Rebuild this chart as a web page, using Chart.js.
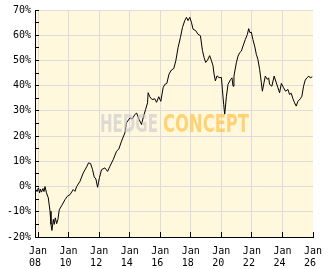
<!DOCTYPE html>
<html>
<head>
<meta charset="utf-8">
<script src="https://cdn.jsdelivr.net/npm/chart.js@4.4.1/dist/chart.umd.min.js"></script>
<style>
  html, body { margin: 0; padding: 0; background: #fff; }
</style>
</head>
<body>
<canvas id="perfChart" width="332" height="269"></canvas>
<script>
// performance since start, in percent
var dates = [
  "2007-11-13", "2007-12-07", "2008-01-12", "2008-02-06", "2008-02-28", "2008-03-22",
  "2008-04-27", "2008-05-21", "2008-06-15", "2008-07-20", "2008-09-03", "2008-10-13",
  "2008-11-06", "2008-11-28", "2009-01-01", "2009-01-23", "2009-02-17", "2009-03-20",
  "2009-04-20", "2009-05-21", "2009-07-17", "2009-10-06", "2009-11-28", "2010-02-04",
  "2010-04-20", "2010-06-01", "2010-07-11", "2010-09-27", "2010-12-16", "2011-03-06",
  "2011-04-22", "2011-06-10", "2011-07-26", "2011-09-05", "2011-10-15", "2011-11-24",
  "2011-12-14", "2012-01-08", "2012-02-28", "2012-05-16", "2012-07-20", "2012-09-14",
  "2012-12-03", "2013-02-21", "2013-04-16", "2013-06-19", "2013-09-08", "2013-10-17",
  "2014-01-05", "2014-02-28", "2014-05-03", "2014-06-13", "2014-08-07", "2014-10-10",
  "2014-11-17", "2015-01-14", "2015-03-02", "2015-03-15", "2015-04-25", "2015-06-19",
  "2015-08-22", "2015-10-04", "2015-11-26", "2016-01-14", "2016-03-09", "2016-04-18",
  "2016-06-06", "2016-07-28", "2016-09-25", "2016-11-20", "2017-01-08", "2017-03-02",
  "2017-04-27", "2017-06-15", "2017-08-09", "2017-09-19", "2017-10-26", "2017-12-07",
  "2018-01-16", "2018-02-24", "2018-04-27", "2018-06-21", "2018-08-18", "2018-10-06",
  "2018-11-13", "2018-12-22", "2019-02-04", "2019-03-26", "2019-05-08", "2019-06-15",
  "2019-07-09", "2019-08-11", "2019-09-19", "2019-11-06", "2020-01-03", "2020-01-25",
  "2020-02-26", "2020-03-20", "2020-05-01", "2020-06-08", "2020-08-11", "2020-09-12",
  "2020-10-06", "2020-10-28", "2020-12-25", "2021-02-04", "2021-03-13", "2021-04-22",
  "2021-06-01", "2021-07-26", "2021-09-14", "2021-10-15", "2021-11-15", "2021-12-18",
  "2022-01-25", "2022-03-06", "2022-04-16", "2022-05-23", "2022-07-04", "2022-08-14",
  "2022-09-08", "2022-10-15", "2022-11-17", "2023-01-05", "2023-02-06", "2023-02-28",
  "2023-04-22", "2023-06-15", "2023-08-07", "2023-09-14", "2023-10-24", "2023-12-05",
  "2024-01-27", "2024-03-15", "2024-05-10", "2024-06-19", "2024-07-28", "2024-09-08",
  "2024-10-17", "2024-11-26", "2025-01-05", "2025-03-02", "2025-04-09", "2025-05-19",
  "2025-06-28", "2025-08-07", "2025-09-23", "2025-10-26", "2025-12-14"
];
var perf = [
  -1.2, -2.0, -0.5, -2.5, -1.0, -2.2,
  -0.8, -2.0, 0.0, -2.5, -4.5, -9.8,
  -15.0, -17.4, -13.0, -15.0, -12.4, -14.7,
  -13.0, -9.2, -7.6, -5.2, -3.9, -3.2,
  -1.2, -1.9, 0.0, 2.0, 5.4, 7.8,
  9.4, 9.1, 6.7, 3.8, 3.0, -0.3,
  1.5, 3.5, 6.7, 7.4, 6.0, 8.0,
  10.7, 14.0, 14.9, 18.0, 21.3, 25.3,
  27.2, 26.8, 28.5, 29.2, 26.8, 24.6,
  27.2, 30.5, 33.2, 37.2, 35.6, 34.5,
  34.8, 33.4, 35.6, 33.8, 39.2, 40.5,
  40.9, 44.6, 46.2, 46.8, 49.9, 55.2,
  59.1, 63.1, 65.8, 67.1, 65.8, 67.1,
  65.1, 62.4, 61.8, 60.4, 59.8, 53.9,
  51.2, 49.2, 50.1, 51.9, 49.9, 47.9,
  44.6, 41.9, 43.9, 43.2, 43.2, 38.6,
  32.6, 28.7, 35.8, 40.5, 42.5, 43.1,
  39.8, 43.8, 49.1, 51.7, 53.1, 53.7,
  55.7, 58.3, 60.3, 62.6, 61.0, 61.2,
  58.3, 55.7, 52.4, 50.4, 46.4, 41.1,
  37.8, 41.1, 43.8, 42.5, 43.1, 40.5,
  39.8, 43.8, 41.1, 39.2, 37.2, 40.9,
  39.2, 37.8, 38.5, 36.5, 37.0, 34.8,
  33.2, 31.9, 33.8, 34.8, 35.8, 39.8,
  42.2, 43.1, 43.8, 43.1, 43.5
];
var xTickYears = [2008, 2010, 2012, 2014, 2016, 2018, 2020, 2022, 2024, 2026];
var yMin = -20, yMax = 70;

function toYear(d) {
  var p = d.split("-");
  return +p[0] + (p[1] - 1) / 12 + (p[2] - 1) / 365;
}

const monoFont = { family: "'DejaVu Sans Mono', 'Liberation Mono', monospace", size: 10 };

// cream plot background
const plotBg = {
  id: "plotBg",
  beforeDraw(chart) {
    const { ctx, chartArea: a } = chart;
    ctx.save();
    ctx.fillStyle = "#fff8dc";
    ctx.fillRect(a.left, a.top, a.right - a.left, a.bottom - a.top);
    ctx.restore();
  },
};

// watermark, drawn over the line
function fitText(ctx, text, x, y, width, color) {
  const w = ctx.measureText(text).width;
  ctx.save();
  ctx.translate(x, y);
  ctx.scale(width / w, 1);
  ctx.fillStyle = color;
  ctx.fillText(text, 0, 0);
  ctx.restore();
}
const watermark = {
  id: "watermark",
  afterDatasetsDraw(chart) {
    const { ctx, chartArea: a } = chart;
    const cx = (a.left + a.right) / 2;
    const cy = (a.top + a.bottom) / 2;
    ctx.save();
    ctx.font = "bold 24px 'Liberation Sans Narrow', 'DejaVu Sans Condensed', sans-serif";
    ctx.textBaseline = "alphabetic";
    fitText(ctx, "HEDGE", cx - 74, cy + 8.5, 58, "rgba(200,200,208,0.62)");
    fitText(ctx, "CONCEPT", cx - 11, cy + 8.5, 86, "rgba(255,188,55,0.62)");
    ctx.restore();
  },
};

// small tick marks pointing into the plot
function alignPx(p) {
  return Math.round(p - 0.5) + 0.5;
}
const innerTicks = {
  id: "innerTicks",
  afterDraw(chart) {
    const { ctx, chartArea: a, scales } = chart;
    ctx.save();
    ctx.strokeStyle = "#000";
    ctx.lineWidth = 1;
    ctx.beginPath();
    scales.x.ticks.forEach((t) => {
      const px = alignPx(scales.x.getPixelForValue(t.value));
      ctx.moveTo(px, a.bottom);
      ctx.lineTo(px, a.bottom - 5);
    });
    scales.y.ticks.forEach((t) => {
      const py = alignPx(scales.y.getPixelForValue(t.value));
      ctx.moveTo(a.left, py);
      ctx.lineTo(a.left + 4, py);
    });
    ctx.stroke();
    ctx.restore();
  },
};

const ctxPerf = document.getElementById("perfChart").getContext("2d");
const perfChart = new Chart(ctxPerf, {
  type: "line",
  data: {
    datasets: [
      {
        data: dates.map((d, i) => ({ x: toYear(d), y: perf[i] })),
        borderColor: "#000",
        borderWidth: 1,
        pointRadius: 0,
        tension: 0,
        fill: false,
      },
    ],
  },
  options: {
    responsive: false,
    animation: false,
    devicePixelRatio: 1,
    layout: { padding: { top: 10, right: 19, bottom: 0, left: 0 } },
    plugins: { legend: { display: false }, tooltip: { enabled: false } },
    scales: {
      x: {
        type: "linear",
        min: 2007.8,
        max: 2026,
        afterBuildTicks: (s) => {
          s.ticks = xTickYears.map((v) => ({ value: v }));
        },
        afterFit: (s) => {
          s.height = 32;
        },
        ticks: {
          autoSkip: false,
          maxRotation: 0,
          minRotation: 0,
          padding: 8,
          color: "#000",
          font: monoFont,
          callback: (v) => ["Jan", String(v % 100).padStart(2, "0") + " "],
        },
        grid: {
          drawTicks: false,
          color: (c) => (c.tick && c.tick.value === 2026 ? "rgba(0,0,0,0)" : "#dcdcdc"),
        },
        border: { color: "#000", width: 1 },
      },
      y: {
        min: yMin,
        max: yMax,
        afterFit: (s) => {
          s.width = 35;
        },
        ticks: {
          stepSize: 5,
          autoSkip: false,
          padding: 4,
          color: "#000",
          font: monoFont,
          callback: (v) => (v % 10 === 0 ? v + "%" : ""),
        },
        grid: {
          drawTicks: false,
          color: (c) => (c.tick && c.tick.value % 10 === 0 ? "#dcdcdc" : "rgba(0,0,0,0)"),
        },
        border: { color: "#000", width: 1 },
      },
    },
  },
  plugins: [plotBg, watermark, innerTicks],
});
</script>
</body>
</html>
